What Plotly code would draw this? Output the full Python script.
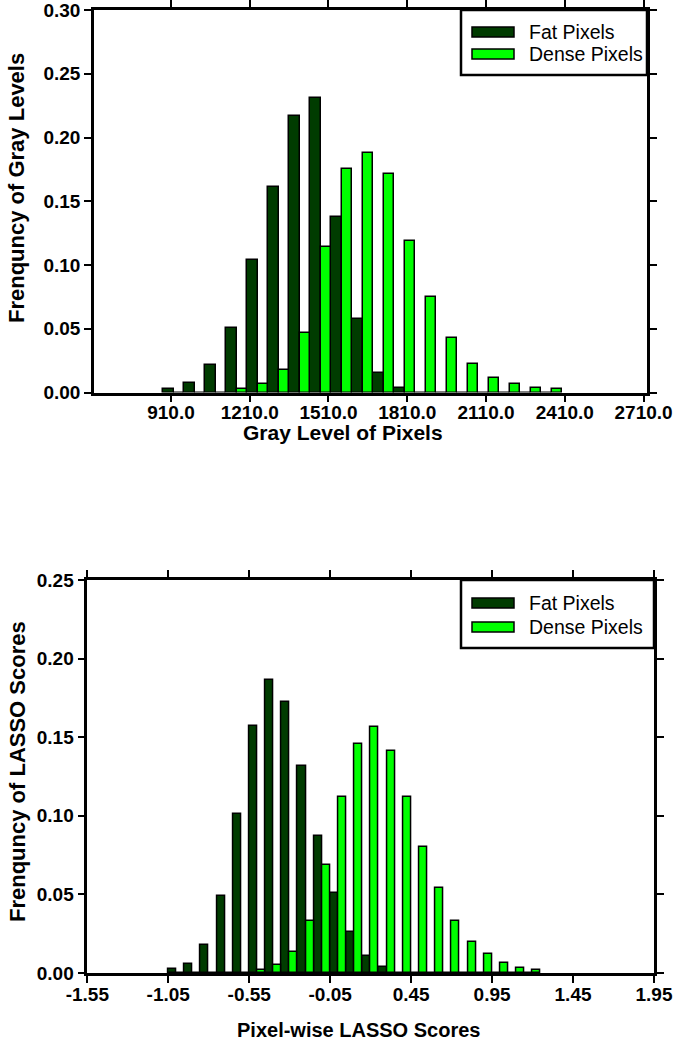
import plotly.graph_objects as go

# ---------------- data ----------------
gray_bins = [920, 1000, 1080, 1160, 1240, 1320, 1400, 1480, 1560, 1640,
             1720, 1800, 1880, 1960, 2040, 2120, 2200, 2280, 2360]
gray_fat = [0.0025, 0.0072, 0.0213, 0.0508, 0.1036, 0.161, 0.217, 0.2307, 0.1378, 0.058,
            0.015, 0.0038, 0, 0, 0, 0, 0, 0, 0]
gray_dense = [0, 0, 0, 0.003, 0.007, 0.018, 0.047, 0.1143, 0.175, 0.1875,
              0.171, 0.119, 0.075, 0.0424, 0.0221, 0.0116, 0.0064, 0.0038, 0.0025]

lasso_bins = [-1.0, -0.9, -0.8, -0.7, -0.6, -0.5, -0.4, -0.3, -0.2, -0.1, 0.0, 0.1,
              0.2, 0.3, 0.4, 0.5, 0.6, 0.7, 0.8, 0.9, 1.0, 1.1, 1.2]
lasso_fat = [0.0023, 0.0055, 0.0178, 0.049, 0.101, 0.1573, 0.1864, 0.1726, 0.1319, 0.0871,
             0.051, 0.026, 0.011, 0.0036, 0, 0, 0, 0, 0, 0, 0, 0, 0]
lasso_dense = [0, 0, 0, 0, 0, 0.0022, 0.005, 0.0135, 0.033, 0.0687, 0.112, 0.1455,
               0.1567, 0.141, 0.1117, 0.0803, 0.0539, 0.0333, 0.0199, 0.0119, 0.0066,
               0.0034, 0.0019]

gray_tickvals = [910, 1210, 1510, 1810, 2110, 2410, 2710]
gray_ticktext = ["910.0", "1210.0", "1510.0", "1810.0", "2110.0", "2410.0", "2710.0"]
lasso_tickvals = [-1.55, -1.05, -0.55, -0.05, 0.45, 0.95, 1.45, 1.95]
lasso_ticktext = ["-1.55", "-1.05", "-0.55", "-0.05", "0.45", "0.95", "1.45", "1.95"]
y1_tickvals = [0.0, 0.05, 0.10, 0.15, 0.20, 0.25, 0.30]
y1_ticktext = ["0.00", "0.05", "0.10", "0.15", "0.20", "0.25", "0.30"]
y2_tickvals = [0.0, 0.05, 0.10, 0.15, 0.20, 0.25]
y2_ticktext = ["0.00", "0.05", "0.10", "0.15", "0.20", "0.25"]

series_names = ["Fat Pixels", "Dense Pixels"]

# ---------------- style ----------------
W, H = 673, 1045
DARK = "#003c00"
LIGHT = "#00ff00"
FONT = "Liberation Sans, Arial, sans-serif"


def px(x):
    return x / W


def py(y):
    return 1 - y / H


fig = go.Figure()

bar_line = dict(color="black", width=1.5)
fig.add_trace(go.Bar(x=gray_bins, y=gray_fat, name=series_names[0],
                     marker=dict(color=DARK, line=bar_line), xaxis="x", yaxis="y"))
fig.add_trace(go.Bar(x=gray_bins, y=gray_dense, name=series_names[1],
                     marker=dict(color=LIGHT, line=bar_line), xaxis="x", yaxis="y"))
fig.add_trace(go.Bar(x=lasso_bins, y=lasso_fat, name=series_names[0],
                     marker=dict(color=DARK, line=bar_line), xaxis="x2", yaxis="y2"))
fig.add_trace(go.Bar(x=lasso_bins, y=lasso_dense, name=series_names[1],
                     marker=dict(color=LIGHT, line=bar_line), xaxis="x2", yaxis="y2"))

axis_common = dict(showline=True, linecolor="black", linewidth=2.5, mirror="allticks",
                   ticks="outside", ticklen=7, tickwidth=2, tickcolor="black",
                   showgrid=False, zeroline=False, automargin=False,
                   ticklabeloverflow="allow",
                   tickfont=dict(family=FONT, size=19, color="black", weight="bold"))

fig.update_layout(
    width=W, height=H,
    margin=dict(l=0, r=0, t=0, b=0, pad=0, autoexpand=False),
    paper_bgcolor="white", plot_bgcolor="white",
    barmode="group", bargap=0, bargroupgap=0,
    showlegend=False,
    font=dict(family=FONT, color="black"),
    xaxis=dict(domain=[px(94), px(647)], range=[617, 2723], anchor="y",
               tickmode="array", tickvals=gray_tickvals, ticktext=gray_ticktext,
               ticklabelstandoff=-6, **axis_common),
    yaxis=dict(domain=[py(392.5), py(10)], range=[0, 0.30], anchor="x",
               tickmode="array", tickvals=y1_tickvals, ticktext=y1_ticktext, **axis_common),
    xaxis2=dict(domain=[px(87.3), px(654)], range=[-1.55, 1.95], anchor="y2",
                tickmode="array", tickvals=lasso_tickvals, ticktext=lasso_ticktext,
                ticklabelstandoff=-5, **axis_common),
    yaxis2=dict(domain=[py(973), py(580)], range=[0, 0.25], anchor="x2",
                tickmode="array", tickvals=y2_tickvals, ticktext=y2_ticktext, **axis_common),
)

# axis titles
annotations = [
    dict(text="Gray Level of Pixels", x=px(343), y=py(432), xref="paper", yref="paper",
         showarrow=False, xanchor="center", yanchor="middle",
         font=dict(family=FONT, size=21, color="black", weight="bold")),
    dict(text="Pixel-wise LASSO Scores", x=px(358), y=py(1030), xref="paper", yref="paper",
         showarrow=False, xanchor="center", yanchor="middle",
         font=dict(family=FONT, size=20, color="black", weight="bold")),
    dict(text="Frenquncy of Gray Levels", x=px(17), y=py(188), xref="paper", yref="paper",
         showarrow=False, xanchor="center", yanchor="middle", textangle=-90,
         font=dict(family=FONT, size=22, color="black", weight="bold")),
    dict(text="Frenquncy of LASSO Scores", x=px(17), y=py(772), xref="paper", yref="paper",
         showarrow=False, xanchor="center", yanchor="middle", textangle=-90,
         font=dict(family=FONT, size=22, color="black", weight="bold")),
]

# custom legends (box + swatches + labels)
shapes = []
legend_font = dict(family=FONT, size=19.5, color="black")
for (bx0, bx1, by0, by1, rows) in [
    (461, 647, 10, 75, [32, 54]),
    (461, 654, 580, 648, [603, 627]),
]:
    shapes.append(dict(type="rect", xref="paper", yref="paper",
                       x0=px(bx0), x1=px(bx1), y0=py(by1), y1=py(by0),
                       line=dict(color="black", width=2.5), fillcolor="white", layer="above"))
    for name, color, ry in zip(series_names, [DARK, LIGHT], rows):
        shapes.append(dict(type="rect", xref="paper", yref="paper",
                           x0=px(472), x1=px(514), y0=py(ry + 5), y1=py(ry - 5),
                           line=dict(color="black", width=1.5), fillcolor=color, layer="above"))
        annotations.append(dict(text=name, x=px(527), y=py(ry), xref="paper", yref="paper",
                                showarrow=False, xanchor="left", yanchor="middle",
                                font=legend_font))

fig.update_layout(annotations=annotations, shapes=shapes)

fig.write_html("out.html", config={"displayModeBar": False},
               post_script="document.body.style.margin='0';document.body.style.overflow='hidden';")
